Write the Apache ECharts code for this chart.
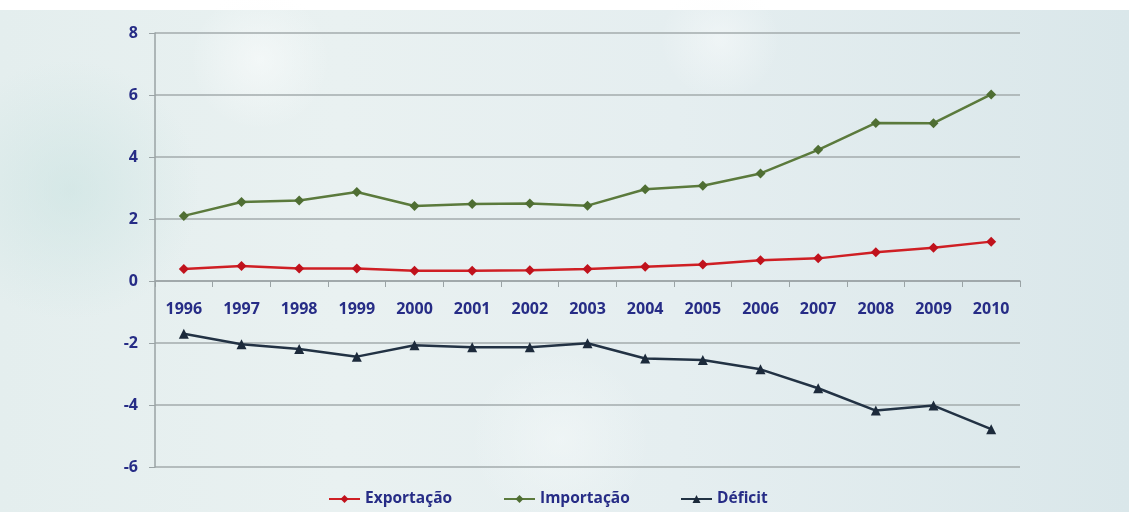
<!DOCTYPE html>
<html>
<head>
<meta charset="utf-8">
<script src="https://cdn.jsdelivr.net/npm/echarts@6/dist/echarts.min.js"></script>
<style>
  html, body { margin: 0; padding: 0; background: #ffffff; }
  #chart { width: 1129px; height: 512px; }
</style>
</head>
<body>
<div id="chart"></div>
<script>
// Balança comercial: exportação, importação e déficit (1996–2010)
const years = ['1996','1997','1998','1999','2000','2001','2002','2003','2004','2005','2006','2007','2008','2009','2010'];
const exportacao = [0.39, 0.48, 0.40, 0.40, 0.33, 0.33, 0.35, 0.39, 0.46, 0.53, 0.67, 0.73, 0.93, 1.07, 1.27];
const importacao = [2.10, 2.55, 2.60, 2.87, 2.42, 2.48, 2.50, 2.43, 2.96, 3.07, 3.47, 4.23, 5.10, 5.09, 6.02];
const deficit = [-1.70, -2.04, -2.19, -2.44, -2.07, -2.14, -2.14, -2.01, -2.50, -2.55, -2.85, -3.46, -4.18, -4.02, -4.78];
const yTicks = { min: -6, max: 8, step: 2 };

const navy = '#262c86';
const fontFam = '"Open Sans", "Noto Sans", sans-serif';

const gridTop = 33, gridBottom = 45, chartH = 512;

const chart = echarts.init(document.getElementById('chart'), null, { renderer: 'canvas' });

// Category axis sits on the zero line: shift it up from the grid's bottom edge
const plotH = chartH - gridTop - gridBottom;
const zeroOffset = plotH * (0 - yTicks.min) / (yTicks.max - yTicks.min);

function legendAt(name, left) {
  return {
    data: [name], left: left, top: 491, padding: 0,
    itemWidth: 31, itemHeight: 10, itemGap: 2,
    textStyle: { color: navy, fontFamily: fontFam, fontWeight: 'bold', fontSize: 15.5 }
  };
}

// soft patches of sky colour behind the plot
function haze(cx, cy, rx, ry, r, g, b, a) {
  return {
    type: 'ellipse', z: -9, silent: true,
    shape: { cx: cx, cy: cy, rx: rx, ry: ry },
    style: {
      fill: {
        type: 'radial', x: 0.5, y: 0.5, r: 0.5,
        colorStops: [
          { offset: 0, color: `rgba(${r},${g},${b},${a})` },
          { offset: 1, color: `rgba(${r},${g},${b},0)` }
        ]
      }
    }
  };
}

chart.setOption({
  backgroundColor: '#ffffff',
  graphic: [
    {
      type: 'rect', z: -10, silent: true,
      shape: { x: 0, y: 10, width: 1129, height: 502 },
      style: {
        fill: {
          type: 'linear', x: 0, y: 0, x2: 1, y2: 0,
          colorStops: [
            { offset: 0, color: '#e4eeee' },
            { offset: 0.3, color: '#e9f1f1' },
            { offset: 0.6, color: '#e5eef0' },
            { offset: 1, color: '#dae7ea' }
          ]
        }
      }
    },
    haze(70, 190, 170, 130, 200, 226, 224, 0.55),
    haze(260, 60, 280, 70, 250, 252, 252, 0.6),
    haze(720, 40, 320, 60, 250, 252, 252, 0.5),
    haze(560, 440, 520, 90, 246, 250, 250, 0.5)
  ],
  grid: { left: 155, right: 109, top: gridTop, bottom: gridBottom, containLabel: false },
  legend: [
    legendAt('Exportação', 328),
    legendAt('Importação', 503),
    legendAt('Déficit', 680)
  ],
  xAxis: {
    type: 'category', data: years, boundaryGap: true,
    position: 'bottom', offset: -zeroOffset,
    axisLine: { onZero: false, lineStyle: { color: '#9aa3a5', width: 1.5 } },
    axisTick: { show: true, length: 6, lineStyle: { color: '#9aa3a5' } },
    axisLabel: { color: navy, fontFamily: fontFam, fontWeight: 'bold', fontSize: 16, margin: 20 }
  },
  yAxis: {
    type: 'value', min: yTicks.min, max: yTicks.max, interval: yTicks.step,
    axisLine: { show: true, lineStyle: { color: '#9aa3a5', width: 1.5 } },
    axisTick: { show: true, length: 6, lineStyle: { color: '#9aa3a5' } },
    splitLine: { lineStyle: { color: '#a3abad', width: 1.5 } },
    axisLabel: { color: navy, fontFamily: fontFam, fontWeight: 'bold', fontSize: 16, margin: 17 }
  },
  series: [
    {
      name: 'Exportação', type: 'line', data: exportacao,
      symbol: 'diamond', symbolSize: 10,
      lineStyle: { color: '#cf1f24', width: 2.5 },
      itemStyle: { color: '#c0121c' }
    },
    {
      name: 'Importação', type: 'line', data: importacao,
      symbol: 'diamond', symbolSize: 10,
      lineStyle: { color: '#5b7a3c', width: 2.5 },
      itemStyle: { color: '#4f6e33' }
    },
    {
      name: 'Déficit', type: 'line', data: deficit,
      symbol: 'triangle', symbolSize: 10,
      lineStyle: { color: '#223244', width: 2.5 },
      itemStyle: { color: '#1c2a3b' }
    }
  ]
});
</script>
</body>
</html>
